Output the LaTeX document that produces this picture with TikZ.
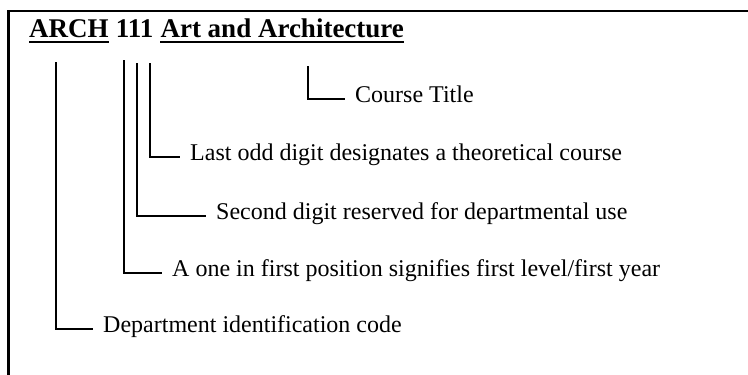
\documentclass[tikz,border=0pt]{standalone}
\usepackage{fontspec}
\setmainfont{Liberation Serif}
\usetikzlibrary{positioning,calc}
\tikzset{%
  lbl/.style={anchor=west,inner sep=0pt,text height=.66em,text depth=0pt,%
    font=\fontsize{24}{28}\selectfont},
  ttl/.style={anchor=base west,inner sep=0pt,font=\fontsize{27}{32}\selectfont\bfseries},
  lead/.style={draw,line width=2pt,shorten >=10pt},
  uline/.style={draw,line width=1.8pt}
}
\begin{document}
\begin{tikzpicture}[x=1pt,y=-1pt]
\useasboundingbox (0,0) rectangle (748,375);
% frame, only top and left edges show
\draw[line width=2.5pt] (8.5,375) -- (8.5,11) -- (748,11);
% heading
\node[ttl] (arch) at (29,37) {ARCH};
\node[ttl,base right=6.75pt of arch] (num) {111};
\node[ttl,base right=6.75pt of num] (name) {Art and Architecture};
\draw[uline] ([yshift=-5pt]arch.base west) -- ([yshift=-5pt]arch.base east);
\draw[uline] ([yshift=-5pt]name.base west) -- ([yshift=-5pt]name.base east);
% labels
\node[lbl] (title) at (355,99) {Course Title};
\node[lbl] (odd) at (190,157) {Last odd digit designates a theoretical course};
\node[lbl] (second) at (216,216) {Second digit reserved for departmental use};
\node[lbl] (first) at (172,273) {A one in first position signifies first level/first year};
\node[lbl] (dept) at (103,329) {Department identification code};
% leaders
\coordinate (tArch) at (56,62);
\coordinate (tOne) at (124,60);
\coordinate (tTwo) at (137,63);
\coordinate (tThree) at (150,63);
\coordinate (tName) at (308,66);
\draw[lead] (tArch) |- (dept.west);
\draw[lead] (tOne) |- (first.west);
\draw[lead] (tTwo) |- (second.west);
\draw[lead] (tThree) |- (odd.west);
\draw[lead] (tName) |- (title.west);
\end{tikzpicture}
\end{document}
